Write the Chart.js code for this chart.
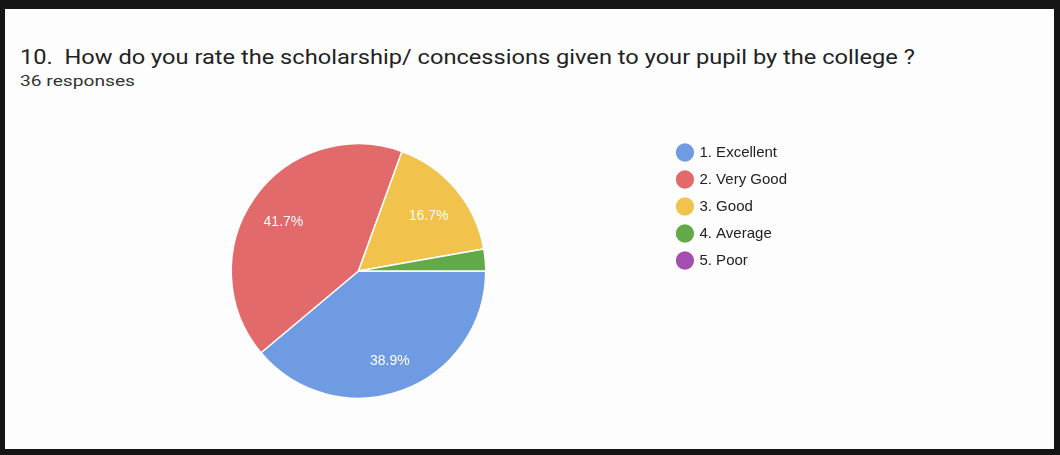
<!DOCTYPE html>
<html>
<head>
<meta charset="utf-8">
<script src="https://cdn.jsdelivr.net/npm/chart.js@4"></script>
<style>
  html, body { margin: 0; padding: 0; background: #fff; }
  #frame {
    position: absolute; left: 0; top: 0;
    width: 1060px; height: 455px; box-sizing: border-box;
    border-style: solid; border-color: #151515;
    border-width: 9px 6px 6px 5px;
    background: #fdfdfd;
  }
  #title {
    position: absolute; left: 20px; top: 45px;
    font-family: Roboto, sans-serif; font-size: 21px; color: #222;
    white-space: nowrap;
    transform: scaleX(1.125); transform-origin: left center;
  }
  #sub {
    position: absolute; left: 20px; top: 73px;
    font-family: Roboto, sans-serif; font-size: 14px; color: #333;
    white-space: nowrap;
    transform: scaleX(1.37); transform-origin: left center;
  }
  #wrap { position: absolute; left: 0; top: 0; width: 1060px; height: 455px; }
</style>
</head>
<body>
<div id="frame"></div>
<div id="title">10.&nbsp; How do you rate the scholarship/ concessions given to your pupil by the college ?</div>
<div id="sub">36 responses</div>
<div id="wrap"><canvas id="chart"></canvas></div>
<script>
const categories = ['1. Excellent', '2. Very Good', '3. Good', '4. Average', '5. Poor'];
const responses = [14, 15, 6, 1, 0];
const sliceColors = ['#6f9be2', '#e26a6a', '#f1c24c', '#62a94a', '#a24fb0'];

const total = responses.reduce((a, b) => a + b, 0);

// percentages written inside the bigger slices, like google forms does
const sliceLabels = {
    id: 'sliceLabels',
    afterDatasetsDraw(chart) {
        const ctx = chart.ctx;
        const meta = chart.getDatasetMeta(0);
        ctx.save();
        ctx.font = '14px Arial, "Liberation Sans", sans-serif';
        ctx.fillStyle = '#ffffff';
        ctx.textAlign = 'center';
        ctx.textBaseline = 'middle';
        meta.data.forEach((arc, i) => {
            const pct = responses[i] / total * 100;
            if (pct < 5) return;
            const p = arc.getProps(['startAngle', 'endAngle', 'outerRadius', 'x', 'y'], true);
            const mid = (p.startAngle + p.endAngle) / 2;
            const r = p.outerRadius * 0.72;
            ctx.fillText(pct.toFixed(1) + '%', p.x + Math.cos(mid) * r, p.y + Math.sin(mid) * r + 4);
        });
        ctx.restore();
    }
};

// legend sits a bit higher than the pie top
const raiseLegend = {
    id: 'raiseLegend',
    afterLayout(chart) {
        chart.legend.top -= 10;
        chart.legend.bottom -= 10;
    }
};

new Chart(document.getElementById('chart'), {
    type: 'pie',
    data: {
        labels: categories,
        datasets: [{
            data: responses,
            backgroundColor: sliceColors,
            borderColor: '#ffffff',
            borderWidth: 1.5
        }]
    },
    options: {
        responsive: true,
        maintainAspectRatio: false,
        animation: false,
        rotation: 90,
        layout: { padding: { left: 51, right: 263, top: 143, bottom: 56 } },
        plugins: {
            tooltip: { enabled: false },
            legend: {
                position: 'right',
                align: 'start',
                labels: {
                    usePointStyle: true,
                    pointStyle: 'circle',
                    boxWidth: 14,
                    boxHeight: 14,
                    padding: 12,
                    color: '#222',
                    font: { family: 'Arial, "Liberation Sans", sans-serif', size: 15 }
                }
            }
        }
    },
    plugins: [sliceLabels, raiseLegend]
});
</script>
</body>
</html>
